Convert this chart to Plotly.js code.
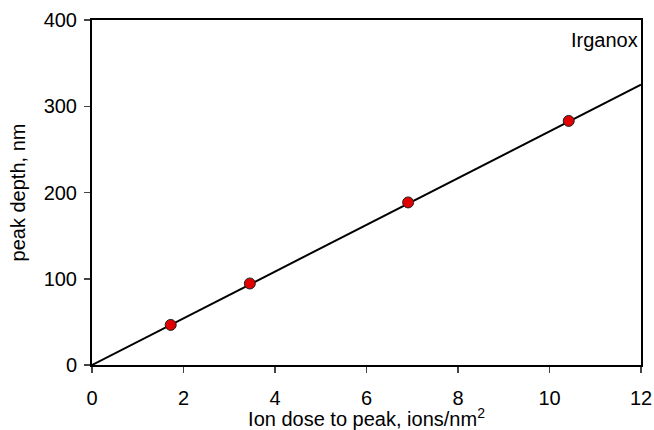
<!DOCTYPE html>
<html><head><meta charset="utf-8">
<script src="https://cdn.plot.ly/plotly-3.0.1.min.js"></script>
<style>html,body{margin:0;padding:0;background:#fff}#chart{width:654px;height:430px}</style>
</head><body><div id="chart"></div>
<script>
const ionDose = [1.72, 3.45, 6.91, 10.42];
const peakDepth = [46.5, 94.5, 188.5, 283];
const fitX = [0, 12];
const fitY = [0, 325];
const xTicks = [0, 2, 4, 6, 8, 10, 12];
const yTicks = [0, 100, 200, 300, 400];
const label = 'Irganox';

const font = {family: 'Liberation Sans, Arial, sans-serif', size: 20, color: '#000'};
Plotly.newPlot('chart', [
  {x: fitX, y: fitY, mode: 'lines', line: {color: '#000', width: 2}, hoverinfo: 'skip'},
  {x: ionDose, y: peakDepth, mode: 'markers',
   marker: {color: '#e00000', size: 11, line: {color: '#222', width: 1}}}
], {
  width: 654, height: 430,
  margin: {l: 92, r: 13, t: 20, b: 65},
  showlegend: false,
  paper_bgcolor: '#fff', plot_bgcolor: '#fff',
  font: font,
  xaxis: {range: [0, 12], tickvals: xTicks, ticks: 'outside', ticklen: 6, tickwidth: 1.5,
    ticklabelstandoff: 8,
    showgrid: false, zeroline: false, showline: true, linewidth: 2, linecolor: '#000', mirror: true,
    tickfont: font, title: {text: 'Ion dose to peak, ions/nm<sup>2</sup>', font: font, standoff: 0}},
  yaxis: {range: [0, 400], tickvals: yTicks, ticks: 'outside', ticklen: 6, tickwidth: 1.5,
    ticklabelstandoff: 3,
    showgrid: false, zeroline: false, showline: true, linewidth: 2, linecolor: '#000', mirror: true,
    tickfont: font, title: {text: 'peak depth, nm', font: font, standoff: 13}},
  annotations: [{text: label, xref: 'paper', yref: 'paper', x: 1, y: 1, xanchor: 'right', yanchor: 'top',
    xshift: -1, yshift: -7, showarrow: false, font: font}]
}, {displayModeBar: false, staticPlot: true});
</script></body></html>
